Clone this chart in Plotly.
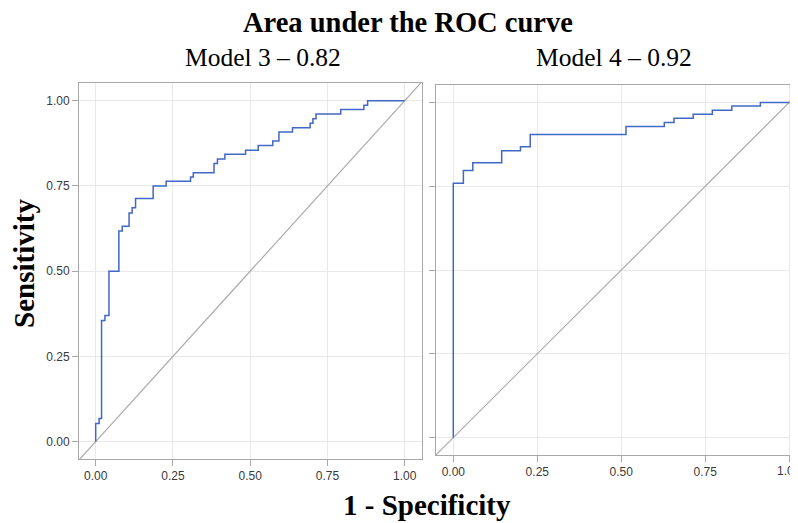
import plotly.graph_objects as go

# Model 3 ROC points (1 - specificity, sensitivity)
m3_fpr = [0.0, 0.0, 0.011, 0.019, 0.030, 0.043, 0.075, 0.086, 0.108, 0.118, 0.129, 0.186,
          0.228, 0.307, 0.316, 0.383, 0.394, 0.418, 0.485, 0.526, 0.573, 0.593, 0.637,
          0.694, 0.703, 0.713, 0.793, 0.868, 0.880, 1.0]
m3_tpr = [0.0, 0.053, 0.068, 0.355, 0.370, 0.500, 0.618, 0.632, 0.671, 0.686, 0.713, 0.750,
          0.764, 0.776, 0.789, 0.816, 0.829, 0.843, 0.855, 0.869, 0.882, 0.908, 0.921,
          0.934, 0.947, 0.961, 0.974, 0.987, 1.0, 1.0]

# Model 4 ROC points
m4_fpr = [0.0, 0.0, 0.030, 0.058, 0.144, 0.200, 0.229, 0.514, 0.628, 0.657, 0.714, 0.771,
          0.829, 0.914, 1.0]
m4_tpr = [0.0, 0.759, 0.797, 0.820, 0.856, 0.868, 0.904, 0.928, 0.940, 0.953, 0.965, 0.977,
          0.989, 1.0, 1.0]

diag = [-1.0, 2.0]
tick_vals = [0, 0.25, 0.5, 0.75, 1.0]
tick_text = ["0.00", "0.25", "0.50", "0.75", "1.00"]

BLUE = "#4168c4"
DIAG = "#acacac"
BORDER = "#a8a8a8"
GRID = "#e9e9e9"

fig = go.Figure()
fig.add_trace(go.Scatter(x=diag, y=diag, mode="lines", line=dict(color=DIAG, width=1.2),
                         xaxis="x", yaxis="y", showlegend=False, hoverinfo="skip"))
fig.add_trace(go.Scatter(x=m3_fpr, y=m3_tpr, mode="lines", line=dict(color=BLUE, width=1.5, shape="hv"),
                         xaxis="x", yaxis="y", showlegend=False))
fig.add_trace(go.Scatter(x=diag, y=diag, mode="lines", line=dict(color=DIAG, width=1.2),
                         xaxis="x2", yaxis="y2", showlegend=False, hoverinfo="skip"))
fig.add_trace(go.Scatter(x=m4_fpr, y=m4_tpr, mode="lines", line=dict(color=BLUE, width=1.5, shape="hv"),
                         xaxis="x2", yaxis="y2", showlegend=False))

# page body has an 8px margin; lay out in page pixels and shift
OFF = 8
W, H = 798 - OFF, 523 - OFF
def px(x):
    return (x - OFF) / W
def py(y):
    return 1 - (y - OFF) / H
def xd(a, b):
    return [px(a), min(1.0, px(b))]
def yd(top, bottom):
    return [py(bottom), py(top)]

TICKFONT = dict(family="Liberation Sans, Arial", size=12, color="#3a3a3a")
axis_common = dict(showline=True, linecolor=BORDER, linewidth=1, mirror=True,
                   showgrid=True, gridcolor=GRID, gridwidth=1, zeroline=False,
                   ticks="outside", ticklen=6, tickcolor=BORDER,
                   tickvals=tick_vals, ticktext=tick_text, tickfont=TICKFONT)

SERIF = "Liberation Serif, Times New Roman"
fig.update_layout(
    width=W, height=H,
    margin=dict(l=0, r=0, t=0, b=0),
    plot_bgcolor="white", paper_bgcolor="white",
    xaxis=dict(domain=xd(79, 422), range=[-0.054, 1.056], anchor="y", **axis_common),
    yaxis=dict(domain=yd(83, 459), range=[-0.051, 1.052], anchor="x", **axis_common),
    xaxis2=dict(domain=xd(436, 798), range=[-0.0515, 1.026], anchor="y2", **axis_common),
    yaxis2=dict(domain=yd(85, 455), range=[-0.052, 1.052], anchor="x2", showticklabels=False,
                **axis_common),
    annotations=[
        dict(text="<b>Area under the ROC curve</b>", x=px(408), y=py(22), xref="paper", yref="paper",
             showarrow=False, font=dict(family=SERIF, size=28.5, color="black"),
             xanchor="center", yanchor="middle"),
        dict(text="Model 3 – 0.82", x=px(263), y=py(58), xref="paper", yref="paper",
             showarrow=False, font=dict(family=SERIF, size=25.5, color="black"),
             xanchor="center", yanchor="middle"),
        dict(text="Model 4 – 0.92", x=px(614), y=py(58), xref="paper", yref="paper",
             showarrow=False, font=dict(family=SERIF, size=25.5, color="black"),
             xanchor="center", yanchor="middle"),
        dict(text="<b>Sensitivity</b>", x=px(24), y=py(264), xref="paper", yref="paper",
             showarrow=False, textangle=-90,
             font=dict(family=SERIF, size=29, color="black"),
             xanchor="center", yanchor="middle"),
        dict(text="<b>1 - Specificity</b>", x=px(427), y=py(504.5), xref="paper", yref="paper",
             showarrow=False, font=dict(family=SERIF, size=29, color="black"),
             xanchor="center", yanchor="middle"),
        # the right panel's last tick label, cut by the page edge as in the source
        dict(text="1.00", x=tick_vals[-1], xref="x2", y=py(470.5), yref="paper",
             showarrow=False, font=TICKFONT, xanchor="center", yanchor="middle"),
    ],
)

fig.write_html("out.html")
